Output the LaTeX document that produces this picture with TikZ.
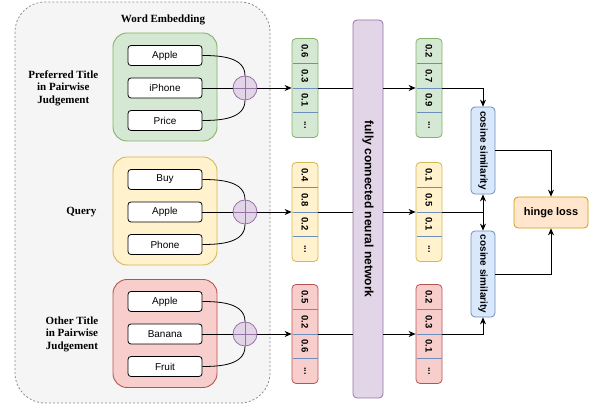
\documentclass[tikz,border=0pt]{standalone}
\usepackage{fontspec}
\setmainfont{Liberation Serif}
\setsansfont{Liberation Sans}
\usepackage{graphicx}
\usetikzlibrary{arrows.meta}

\definecolor{cgreen}{HTML}{D5E8D4}
\definecolor{lgreen}{HTML}{82B366}
\definecolor{cyellow}{HTML}{FFF2CC}
\definecolor{lyellow}{HTML}{D6B656}
\definecolor{cred}{HTML}{F8CECC}
\definecolor{lred}{HTML}{B85450}
\definecolor{cpurple}{HTML}{E1D5E7}
\definecolor{lpurple}{HTML}{9673A6}
\definecolor{cblue}{HTML}{DAE8FC}
\definecolor{lblue}{HTML}{6C8EBF}
\definecolor{corange}{HTML}{FFE6CC}
\definecolor{lorange}{HTML}{D79B00}
\definecolor{cgray}{HTML}{F5F5F5}
\definecolor{lgray}{HTML}{8C8C8C}

\begin{document}
\begin{tikzpicture}[x=1pt,y=1pt,line width=0.8pt]
	\useasboundingbox (0,0) rectangle (595,-411);

	\tikzstyle{word} = [draw,fill=white,rounded corners=3pt,minimum width=74pt,minimum height=20pt,font=\sffamily\fontsize{10}{12}\selectfont]
	\tikzstyle{grp} = [rounded corners=14pt,minimum width=104pt,minimum height=108pt,line width=0.9pt]
	\tikzstyle{side} = [anchor=east,align=center,font=\bfseries\fontsize{11}{12.5}\selectfont]
	\tikzstyle{plus} = [circle,draw=lpurple,fill=cpurple,minimum size=24pt,inner sep=0pt]
	\tikzstyle{vec} = [rounded corners=4pt,minimum width=26pt,minimum height=99pt,inner sep=0pt]
	\tikzstyle{cell} = [inner sep=0pt,font=\sffamily\bfseries\fontsize{9.5}{10}\selectfont]
	\tikzstyle{arr} = [-{Stealth[length=7pt,width=6pt]}]

	% word embedding block
	\draw[lgray,dash pattern=on 2pt off 2pt,fill=cgray,rounded corners=30pt] (15,-2) rectangle (270,-403);
	\node[font=\bfseries\fontsize{11}{12}\selectfont] (title) at (163,-20) {Word Embedding};

	\node[grp,fill=cgreen,draw=lgreen] (g1) at (165,-87) {};
	\node[grp,fill=cyellow,draw=lyellow] (g2) at (165,-211) {};
	\node[grp,fill=cred,draw=lred] (g3) at (165,-333.5) {};

	\node[side] (s1) at (102,-88) {Preferred Title\\in Pairwise\\Judgement};
	\node[side] (s2) at (100,-212) {Query};
	\node[side] (s3) at (102,-334) {Other Title\\in Pairwise\\Judgement};

	\foreach \g/\y/\a/\b/\c in {1/88/Apple/iPhone/Price, 2/212/Buy/Apple/Phone, 3/334/Apple/Banana/Fruit} {
		\node[word] (w\g a) at (165,-\y+32.5) {\a};
		\node[word] (w\g b) at (165,-\y) {\b};
		\node[word] (w\g c) at (165,-\y-32.5) {\c};
		\node[plus] (p\g) at (245,-\y) {};
		\draw[lpurple] (p\g.north) -- (p\g.south) (p\g.west) -- (p\g.east);
		\draw (w\g a.east) to[out=0,in=90] (p\g.north);
		\draw (w\g b.east) -- (p\g.west);
		\draw (w\g c.east) to[out=0,in=-90] (p\g.south);
	}

	% network
	\node[draw=lpurple,fill=cpurple,rounded corners=4pt,minimum width=30pt,minimum height=378pt,inner sep=0pt] (nn) at (368,-209)
		{\rotatebox{-90}{\sffamily\bfseries\fontsize{12}{14}\selectfont fully connected neural network}};

	\foreach \n/\x/\y/\fc/\dc/\a/\b/\c in {vl1/305/88/cgreen/lgreen/0.6/0.3/0.1, vl2/305/212/cyellow/lyellow/0.4/0.8/0.2, vl3/305/334/cred/lred/0.5/0.2/0.6,
			vr1/429/88/cgreen/lgreen/0.2/0.7/0.9, vr2/429/212/cyellow/lyellow/0.1/0.5/0.1, vr3/429/334/cred/lred/0.2/0.3/0.1} {
		\node[vec,fill=\fc,draw=\dc] (\n) at (\x,-\y) {};
		\foreach \d in {-24.6,0,24.6}
			\draw[lblue,line width=0.7pt] (\x-12.5,\d-\y) -- (\x+12.5,\d-\y);
		\node[cell] (\n a) at (\x,37-\y) {\rotatebox{-90}{\a}};
		\node[cell] (\n b) at (\x,12.3-\y) {\rotatebox{-90}{\b}};
		\node[cell] (\n c) at (\x,-12.3-\y) {\rotatebox{-90}{\c}};
		\node[cell] (\n d) at (\x,-37-\y) {\rotatebox{-90}{...}};
	}

	\foreach \i in {1,2,3} {
		\draw[arr] (p\i.east) -- (vl\i.west);
		\draw (vl\i.east) -- (vl\i.east -| nn.west);
		\draw[arr] (vl\i.east -| nn.east) -- (vr\i.west);
	}

	% similarity and loss
	\tikzstyle{cosbox} = [draw=lblue,fill=cblue,rounded corners=4pt,minimum width=24pt,inner sep=0pt,font=\sffamily\bfseries\fontsize{10}{12}\selectfont]
	\node[cosbox,minimum height=87pt] (cos1) at (483,-150.5) {\rotatebox{-90}{cosine similarity}};
	\node[cosbox,minimum height=86pt] (cos2) at (483,-274) {\rotatebox{-90}{cosine similarity}};
	\node[draw=lorange,fill=corange,rounded corners=4pt,minimum width=74pt,minimum height=31pt,font=\sffamily\bfseries\fontsize{11}{13}\selectfont] (hinge) at (551,-212.5) {hinge loss};

	\draw[arr] (vr1.east) -| (cos1.north);
	\draw[arr] (vr2.east) -| (cos1.south);
	\draw[arr] (vr2.east) -| (cos2.north);
	\draw[arr] (vr3.east) -| (cos2.south);
	\draw[arr] (cos1.east) -| (hinge.north);
	\draw[arr] (cos2.east) -| (hinge.south);

\end{tikzpicture}
\end{document}
